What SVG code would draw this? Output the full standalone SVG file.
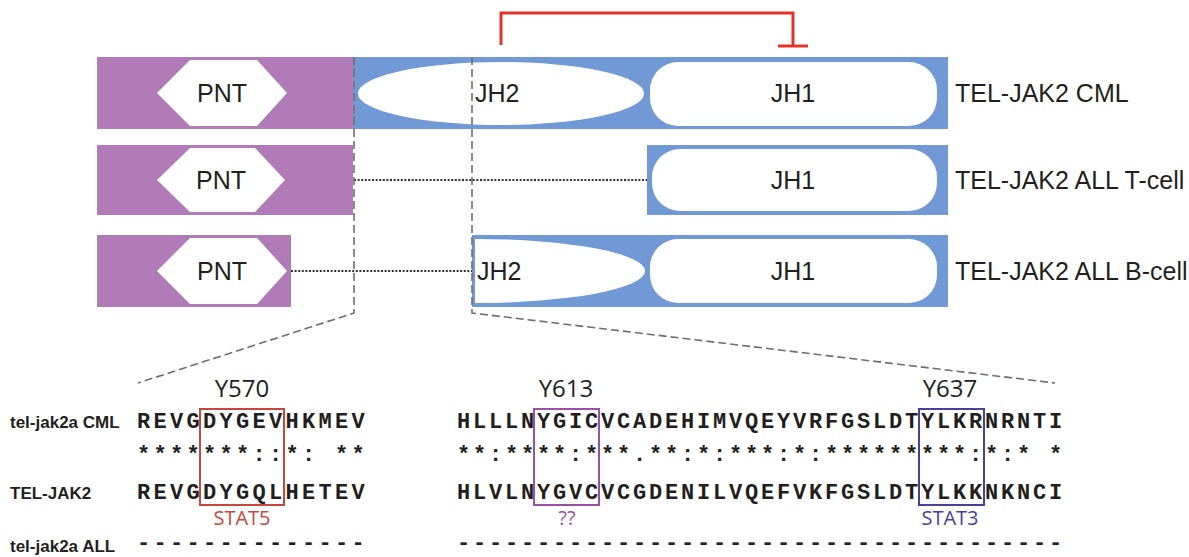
<svg xmlns="http://www.w3.org/2000/svg" width="1189" height="557" viewBox="0 0 1189 557">
<style>
.pur{fill:#b17bb8}
.blu{fill:#7099d5}
.dom{fill:#fff}
.lbl{font-family:"Liberation Sans",Arial,sans-serif;font-size:25px;fill:#231f20}
.mid{text-anchor:middle}
.name{font-family:"Liberation Sans",Arial,sans-serif;font-weight:bold;font-size:17px;fill:#231f20}
.seqL{font-family:"Liberation Mono","Courier New",monospace;font-weight:bold;font-size:22px;letter-spacing:3.3px;fill:#231f20}
.seqR{font-family:"Liberation Mono","Courier New",monospace;font-weight:bold;font-size:22px;letter-spacing:2.8px;fill:#231f20}
.site{font-family:"Open Sans","Noto Sans",sans-serif;font-size:24px;fill:#231f20;text-anchor:middle}
.note{font-family:"Open Sans","Noto Sans",sans-serif;font-size:20px;text-anchor:middle}
.zoom{stroke:#6d6e71;stroke-width:1.6;stroke-dasharray:8 4;fill:none}
.dot{stroke:#333;stroke-width:2.2;stroke-dasharray:2 1.6;fill:none}
.box{fill:none;stroke-width:2}
</style>

<g id="inhibition">
  <polyline points="501,45 501,13 793,13 793,46" fill="none" stroke="#e6332a" stroke-width="3"/>
  <line x1="778" y1="46" x2="808" y2="46" stroke="#e6332a" stroke-width="3"/>
</g>

<g id="tel-jak2-cml">
  <rect class="pur" x="97" y="57" width="256" height="72"/>
  <rect class="blu" x="353" y="57" width="595" height="72"/>
  <polygon class="dom" points="157,93 190,60 257,60 287,93 257,126 190,126"/>
  <ellipse class="dom" cx="501" cy="93.5" rx="143" ry="31.5"/>
  <rect class="dom" x="650" y="62" width="287" height="64" rx="28"/>
  <text class="lbl mid" x="222" y="102">PNT</text>
  <text class="lbl" x="475" y="102">JH2</text>
  <text class="lbl mid" x="793" y="102">JH1</text>
  <text class="lbl" x="955" y="102">TEL-JAK2 CML</text>
</g>

<g id="tel-jak2-all-t">
  <rect class="pur" x="97" y="145" width="256" height="70"/>
  <rect class="blu" x="647" y="145" width="301" height="70"/>
  <polygon class="dom" points="157,180 190,148 255,148 285,180 255,212 190,212"/>
  <rect class="dom" x="652" y="149" width="285" height="62" rx="28"/>
  <text class="lbl mid" x="221" y="189">PNT</text>
  <text class="lbl mid" x="793" y="189">JH1</text>
  <text class="lbl" x="955" y="189">TEL-JAK2 ALL T-cell</text>
</g>

<g id="tel-jak2-all-b">
  <rect class="pur" x="97" y="235" width="194" height="72"/>
  <rect class="blu" x="472" y="235" width="476" height="72"/>
  <polygon class="dom" points="157,271 190,238 257,238 287,271 257,304 190,304"/>
  <path class="dom" d="M475,239 A170,32 0 0 1 475,303 Z"/>
  <rect class="dom" x="650" y="239" width="287" height="64" rx="28"/>
  <text class="lbl mid" x="222" y="280">PNT</text>
  <text class="lbl" x="477" y="280">JH2</text>
  <text class="lbl mid" x="793" y="280">JH1</text>
  <text class="lbl" x="955" y="280">TEL-JAK2 ALL B-cell</text>
</g>

<g id="connectors">
  <line class="dot" x1="354" y1="180" x2="647" y2="180"/>
  <line class="dot" x1="291" y1="271" x2="472" y2="271"/>
  <path class="zoom" d="M354,57 V313 L138,383"/>
  <path class="zoom" d="M472,57 V313 L1055,383"/>
</g>

<g id="alignment">
  <text class="name" x="10" y="428">tel-jak2a CML</text>
  <text class="name" x="10" y="499">TEL-JAK2</text>
  <text class="name" x="10" y="552">tel-jak2a ALL</text>

  <text class="seqL" x="137" y="428">REVGDYGEVHKMEV</text>
  <text class="seqL" x="137" y="461" xml:space="preserve">*******::*: **</text>
  <text class="seqL" x="137" y="499">REVGDYGQLHETEV</text>
  <text class="seqL" x="137" y="549">--------------</text>

  <text class="seqR" x="457" y="428">HLLLNYGICVCADEHIMVQEYVRFGSLDTYLKRNRNTI</text>
  <text class="seqR" x="457" y="461" xml:space="preserve">**:****:***.**:*:***:*:*********:*:* *</text>
  <text class="seqR" x="457" y="499">HLVLNYGVCVCGDENILVQEFVKFGSLDTYLKKNKNCI</text>
  <text class="seqR" x="457" y="549">--------------------------------------</text>
</g>

<g id="site-y570">
  <rect class="box" x="200" y="409" width="84" height="96" stroke="#c8473a"/>
  <text class="site" x="242" y="397">Y570</text>
  <text class="note" x="242" y="525" fill="#c8473a">STAT5</text>
</g>
<g id="site-y613">
  <rect class="box" x="534" y="409" width="65" height="96" stroke="#9b4fa6"/>
  <text class="site" x="566" y="397">Y613</text>
  <text class="note" x="567" y="525" fill="#9b4fa6">??</text>
</g>
<g id="site-y637">
  <rect class="box" x="919" y="409" width="65" height="96" stroke="#4a3f98"/>
  <text class="site" x="950" y="397">Y637</text>
  <text class="note" x="950" y="525" fill="#4a3f98">STAT3</text>
</g>
</svg>
